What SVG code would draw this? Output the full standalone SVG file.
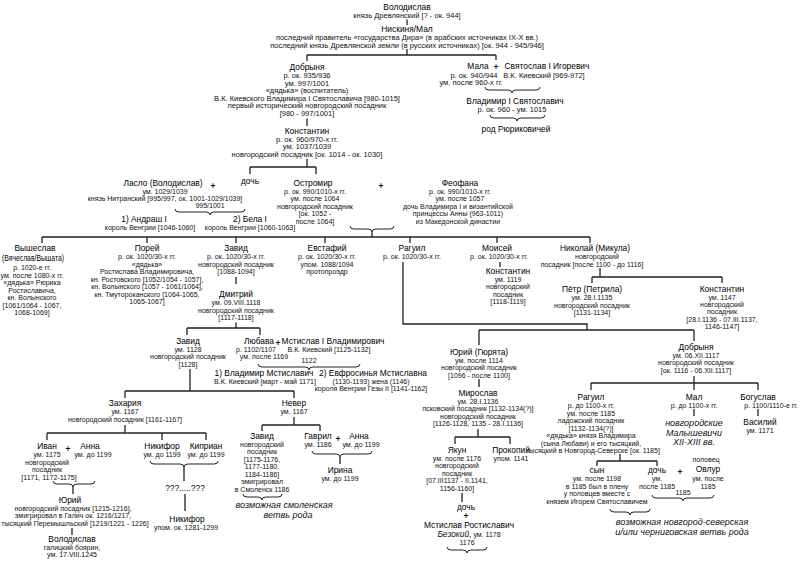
<svg xmlns="http://www.w3.org/2000/svg" width="800" height="562" viewBox="0 0 800 562">
<style>
text{font-family:"Liberation Sans",Arial,sans-serif;text-anchor:middle;fill:#111}
.n{font-size:8.4px;fill:#000}
.d{font-size:7px}
.t{font-size:7.5px}
.i{font-size:9px;font-style:italic}
.p{font-size:8.5px;font-weight:bold}
.c{fill:none;stroke:#222;stroke-width:1.3}
.b{fill:none;stroke:#222;stroke-width:1}
</style>
<rect width="800" height="562" fill="#fff"/>

<!-- connectors -->
<g id="connectors" class="c">
<path d="M407 19.5V25M407 49V55M307 55H496M307 55V61M496 55V60"/>
<path d="M307 118.5V126M307 159V167M250 167H316M250 167V174M316 167V174"/>
<path d="M372 232V237M42 237H590M42 237V243M147 237V243M236 237V243M325 237V243M410 237V243M497 237V243M590 237V243"/>
<path d="M236 277V284M236 322.5V328M187 328H260M187 328V335M260 328V335"/>
<path d="M403 262V324H587V330M479 330H694M479 330V345M694 330V341"/>
<path d="M500 262V267M600 268V277M592 277H722M592 277V283M722 277V283"/>
<path d="M190 369V391M125 391H294M125 391V398M294 391V398"/>
<path d="M125 425V433M47 433H206M47 433V440M162 433V440M206 433V440"/>
<path d="M73 487V494M72 528V535M184 467V481M185 494V511"/>
<path d="M294 417V425M262 425H320M262 425V431M320 425V431M340 457V464"/>
<path d="M479 379V387M478 429V437M455 437H510M455 437V444M510 437V444M462 493V502"/>
<path d="M694 376V383M591 383H758M591 383V390M694 383V390M758 383V390M694 409V416M758 409V416"/>
<path d="M620 454V461M597 461H657M597 461V466M657 461V466"/>
</g>

<!-- braces joining couples and groups -->
<g id="braces" class="b">
<path d="M485 87q0 3 4 3H508q4 0 4 3q0-3 4-3H536q4 0 4-3"/>
<path d="M490 115q0 3 4 3H513q4 0 4 3q0-3 4-3H541q4 0 4-3"/>
<path d="M175 209q0 3 4 3H206q4 0 4 3q0-3 4-3H241q4 0 4-3"/>
<path d="M350 226q0 3 4 3H368q4 0 4 3q0-3 4-3H390q4 0 4-3"/>
<path d="M258 364q0 3 4 3H305q4 0 4 3q0-3 4-3H356q4 0 4-3"/>
<path d="M53 481q0 3 4 3H69q4 0 4 3q0-3 4-3H91q4 0 4-3"/>
<path d="M150 461q0 3 4 3H180q4 0 4 3q0-3 4-3H214q4 0 4-3"/>
<path d="M243 494q0 3 4 3H258q4 0 4 3q0-3 4-3H278q4 0 4-3"/>
<path d="M312 451q0 3 4 3H336q4 0 4 3q0-3 4-3H368q4 0 4-3"/>
<path d="M447 547q0 3 4 3H463q4 0 4 3q0-3 4-3H483q4 0 4-3"/>
<path d="M652 495q0 3 4 3H679q4 0 4 3q0-3 4-3H710q4 0 4-3"/>
<path d="M610 509q0 3 4 3H626q4 0 4 3q0-3 4-3H646q4 0 4-3"/>
</g>

<g id="volodislav">
<text class="n" x="407" y="10">Володислав</text>
<text class="t" x="407" y="17.5">князь Древлянский [? - ок. 944]</text>
</g>
<g id="niskinya">
<text class="n" x="407" y="32">Нискиня/Мал</text>
<text class="t" x="407" y="40">последний правитель «государства Дира» (в арабских источниках IX-X вв.)</text>
<text class="t" x="407" y="47.5">последний князь Древлянской земли (в русских источниках) [ок. 944 - 945/946]</text>
</g>
<g id="dobrynya">
<text class="n" x="307" y="70">Добрыня</text>
<text class="t" x="307" y="78">р. ок. 935/936</text>
<text class="t" x="307" y="85.5">ум. 997/1001</text>
<text class="t" x="307" y="93">«дядька» (воспитатель)</text>
<text class="t" x="307" y="100.5">В.К. Киевского Владимира I Святославича [980-1015]</text>
<text class="t" x="307" y="108">первый исторический новгородский посадник</text>
<text class="t" x="307" y="115.5">[980 - 997/1001]</text>
</g>
<g id="mala">
<text class="n" x="478" y="69">Мала</text>
<text class="t" x="474" y="77.5">р. ок. 940/944</text>
<text class="t" x="471" y="85">ум. после 960-х гг.</text>
<text class="p" x="496" y="70">+</text>
</g>
<g id="svyatoslav">
<text class="n" x="547" y="69">Святослав I Игоревич</text>
<text class="t" x="544" y="77.5">В.К. Киевский [969-972]</text>
</g>
<g id="vladimir1">
<text class="n" x="515" y="104">Владимир I Святославич</text>
<text class="t" x="512" y="111.5">р. ок. 960 - ум. 1015</text>
</g>
<g id="rurikids">
<text class="n" x="516" y="132">род Рюриковичей</text>
</g>
<g id="konstantin1">
<text class="n" x="307" y="134">Константин</text>
<text class="t" x="307" y="141.5">р. ок. 960/970-х гг.</text>
<text class="t" x="307" y="149">ум. 1037/1039</text>
<text class="t" x="307" y="156.5">новгородский посадник [ок. 1014 - ок. 1030]</text>
</g>
<g id="laslo">
<text class="n" x="163" y="186">Ласло (Володислав)</text>
<text class="d" x="165" y="193.5">ум. 1029/1039</text>
<text class="d" x="165" y="201">князь Нитранский [995/997, ок. 1001-1029/1039]</text>
<text class="p" x="213" y="189">+</text>
<text class="d" x="210" y="207.5">995/1001</text>
</g>
<g id="daughter1">
<text class="n" x="250" y="184">дочь</text>
</g>
<g id="andras">
<text class="n" x="144" y="222">1) Андраш I</text>
<text class="d" x="150" y="229.5">король Венгрии [1046-1060]</text>
</g>
<g id="bela">
<text class="n" x="250" y="222">2) Бела I</text>
<text class="d" x="250" y="229.5">король Венгрии [1060-1063]</text>
</g>
<g id="ostromir">
<text class="n" x="313" y="186">Остромир</text>
<text class="d" x="315" y="193.5">р. ок. 990/1010-х гг.</text>
<text class="d" x="315" y="201">ум. после 1064</text>
<text class="d" x="315" y="208.5">новгородский посадник</text>
<text class="d" x="315" y="216">[ок. 1052 -</text>
<text class="d" x="315" y="223.5">после 1064]</text>
<text class="p" x="381" y="189">+</text>
</g>
<g id="feofana">
<text class="n" x="460" y="186">Феофана</text>
<text class="d" x="460" y="193.5">р. ок. 990/1010-х гг.</text>
<text class="d" x="460" y="201">ум. после 1057</text>
<text class="d" x="458" y="208.5">дочь Владимира I и византийской</text>
<text class="d" x="458" y="216">принцессы Анны (963-1011)</text>
<text class="d" x="458" y="223.5">из Македонской династии</text>
</g>
<g id="vysheslav">
<text class="n" x="35" y="251">Вышеслав</text>
<text class="n" x="33" y="261" textLength="62" lengthAdjust="spacingAndGlyphs">(Вячеслав/Вышата)</text>
<text class="d" x="32" y="270">р. 1020-е гг.</text>
<text class="d" x="32" y="277.5">ум. после 1080-х гг.</text>
<text class="d" x="32" y="285">«дядька» Рюрика</text>
<text class="d" x="32" y="292.5">Ростиславича,</text>
<text class="d" x="32" y="300">кн. Волынского</text>
<text class="d" x="32" y="307.5">[1061/1064 - 1067,</text>
<text class="d" x="32" y="315">1068-1069]</text>
</g>
<g id="porey">
<text class="n" x="147" y="251">Порей</text>
<text class="d" x="147" y="259">р. ок. 1020/30-х гг.</text>
<text class="d" x="147" y="266.5">«дядька»</text>
<text class="d" x="147" y="274">Ростислава Владимировича,</text>
<text class="d" x="147" y="281.5">кн. Ростовского [1052/1054 - 1057],</text>
<text class="d" x="147" y="289">кн. Волынского [1057 - 1061/1064],</text>
<text class="d" x="147" y="296.5">кн. Тмутороканского [1064-1065,</text>
<text class="d" x="147" y="304">1065-1067]</text>
</g>
<g id="zavid1">
<text class="n" x="236" y="251">Завид</text>
<text class="d" x="236" y="259">р. ок. 1020/30-х гг.</text>
<text class="d" x="236" y="266.5">новгородский посадник</text>
<text class="d" x="236" y="274">[1088-1094]</text>
</g>
<g id="dmitry">
<text class="n" x="236" y="297">Дмитрий</text>
<text class="d" x="236" y="305">ум. 09.VIII.1118</text>
<text class="d" x="236" y="312.5">новгородский посадник</text>
<text class="d" x="236" y="320">[1117-1118]</text>
</g>
<g id="evstafy">
<text class="n" x="327" y="251">Евстафий</text>
<text class="d" x="327" y="259">р. ок. 1020/30-х гг.</text>
<text class="d" x="327" y="266.5">упом. 1088/1094</text>
<text class="d" x="327" y="274">протопроэдр</text>
</g>
<g id="raguil1">
<text class="n" x="412" y="251">Рагуил</text>
<text class="d" x="412" y="259">р. ок. 1020/30-х гг.</text>
</g>
<g id="moisey">
<text class="n" x="497" y="251">Моисей</text>
<text class="d" x="499" y="259">р. ок. 1020/30-х гг.</text>
</g>
<g id="konstantin2">
<text class="n" x="508" y="274">Константин</text>
<text class="d" x="508" y="281.5">ум. 1119</text>
<text class="d" x="508" y="289">новгородский</text>
<text class="d" x="508" y="296.5">посадник</text>
<text class="d" x="508" y="304">[1118-1119]</text>
</g>
<g id="nikolay">
<text class="n" x="595" y="251">Николай (Микула)</text>
<text class="d" x="597" y="259">новгородский</text>
<text class="d" x="592" y="266.5">посадник [после 1100 - до 1116]</text>
</g>
<g id="petr">
<text class="n" x="592" y="292">Пётр (Петрила)</text>
<text class="d" x="592" y="300">ум. 28.I.1135</text>
<text class="d" x="592" y="307.5">новгородский посадник</text>
<text class="d" x="592" y="315">[1131-1134]</text>
</g>
<g id="konstantin3">
<text class="n" x="722" y="292">Константин</text>
<text class="d" x="722" y="299.5">ум. 1147</text>
<text class="d" x="722" y="307">новгородский</text>
<text class="d" x="722" y="314">посадник</text>
<text class="d" x="722" y="321.5">[28.I.1136 - 07.III.1137,</text>
<text class="d" x="722" y="329">1146-1147]</text>
</g>
<g id="zavid2">
<text class="n" x="188" y="344">Завид</text>
<text class="d" x="188" y="351.5">ум. 1128</text>
<text class="d" x="188" y="359">новгородский посадник</text>
<text class="d" x="188" y="366.5">[1128]</text>
</g>
<g id="lyubava">
<text class="n" x="259" y="344">Любава</text>
<text class="d" x="256" y="351.5">р. 1102/1107</text>
<text class="d" x="264" y="359">ум. после 1169</text>
<text class="p" x="278" y="346">+</text>
</g>
<g id="mstislav1">
<text class="n" x="333" y="344">Мстислав I Владимирович</text>
<text class="d" x="329" y="351.5">В.К. Киевский [1125-1132]</text>
<text class="d" x="309" y="362.5">1122</text>
</g>
<g id="vladimir-mst">
<text class="n" x="264" y="376">1) Владимир Мстиславич</text>
<text class="d" x="265" y="383.5">В.К. Киевский [март - май 1171]</text>
</g>
<g id="evfrosinya">
<text class="n" x="373" y="376">2) Евфросинья Мстиславна</text>
<text class="d" x="371" y="383.5">(1130-1193) жена (1146)</text>
<text class="d" x="371" y="391">короля Венгрии Гезы II [1141-1162]</text>
</g>
<g id="yury-gyuryata">
<text class="n" x="479" y="355">Юрий (Гюрята)</text>
<text class="d" x="479" y="362.5">ум. после 1114</text>
<text class="d" x="479" y="370">новгородский посадник</text>
<text class="d" x="479" y="377.5">[1096 - после 1100]</text>
</g>
<g id="miroslav">
<text class="n" x="478" y="396">Мирослав</text>
<text class="d" x="478" y="403.5">ум. 28.I.1136</text>
<text class="d" x="478" y="411">псковский посадник [1132-1134(?)]</text>
<text class="d" x="478" y="418.5">новгородский посадник</text>
<text class="d" x="478" y="426">[1126-1128, 1135 - 28.I.1136]</text>
</g>
<g id="dobrynya2">
<text class="n" x="696" y="350">Добрыня</text>
<text class="d" x="696" y="357.5">ум. 06.XII.1117</text>
<text class="d" x="696" y="365">новгородский посадник</text>
<text class="d" x="696" y="372.5">[ок. 1116 - 06.XII.1117]</text>
</g>
<g id="zakhariya">
<text class="n" x="125" y="406">Захария</text>
<text class="d" x="125" y="414">ум. 1167</text>
<text class="d" x="125" y="421.5">новгородский посадник [1161-1167]</text>
</g>
<g id="never">
<text class="n" x="294" y="406">Невер</text>
<text class="d" x="294" y="414">ум. 1167</text>
</g>
<g id="raguil2">
<text class="n" x="591" y="400">Рагуил</text>
<text class="d" x="591" y="408">р. до 1100-х гг.</text>
<text class="d" x="591" y="415.5">ум. после 1185</text>
<text class="d" x="591" y="423">ладожский посадник</text>
<text class="d" x="591" y="430.5">[1132-1134(?)]</text>
<text class="d" x="591" y="438">«дядька» князя Владимира</text>
<text class="d" x="591" y="445.5">(сына Любави) и его тысяцкий,</text>
<text class="d" x="593" y="453">тысяцкий в Новгород-Северске [ок. 1185]</text>
</g>
<g id="mal">
<text class="n" x="694" y="400">Мал</text>
<text class="d" x="694" y="408">р. до 1100-х гг.</text>
<text class="i" x="694" y="426">новгородские</text>
<text class="i" x="694" y="435.5">Малышевичи</text>
<text class="i" x="694" y="445">XII-XIII вв.</text>
</g>
<g id="boguslav">
<text class="n" x="758" y="400">Богуслав</text>
<text class="d" x="798" y="408" style="text-anchor:end">р. 1100/1110-е гг.</text>
<text class="n" x="760" y="425">Василий</text>
<text class="d" x="760" y="433">ум. 1171</text>
</g>
<g id="ivan">
<text class="n" x="47" y="449">Иван</text>
<text class="d" x="47" y="457">ум. 1175</text>
<text class="d" x="47" y="464.5">новгородский</text>
<text class="d" x="47" y="472">посадник</text>
<text class="d" x="49" y="479.5">[1171, 1172-1175]</text>
<text class="p" x="68" y="452">+</text>
</g>
<g id="anna1">
<text class="n" x="90" y="449">Анна</text>
<text class="d" x="93" y="457">ум. до 1199</text>
</g>
<g id="nikifor1">
<text class="n" x="162" y="449">Никифор</text>
<text class="d" x="162" y="457">ум. до 1199</text>
</g>
<g id="kiprian">
<text class="n" x="206" y="449">Киприан</text>
<text class="d" x="206" y="457">ум. до 1199</text>
</g>
<g id="unknown">
<text class="n" x="185" y="491">???.....???</text>
</g>
<g id="nikifor2">
<text class="n" x="187" y="522">Никифор</text>
<text class="d" x="186" y="530">упом. ок. 1281-1299</text>
</g>
<g id="yury">
<text class="n" x="70" y="503">Юрий</text>
<text class="d" x="73" y="510.5">новгородский посадник [1215-1216],</text>
<text class="d" x="73" y="518">эмигрировал в Галич ок. 1216/1217,</text>
<text class="d" x="75" y="525.5">тысяцкий Перемышльский [1219/1221 - 1226]</text>
</g>
<g id="volodislav2">
<text class="n" x="72" y="542">Володислав</text>
<text class="d" x="72" y="549.5">галицкий боярин,</text>
<text class="d" x="72" y="557">ум. 17.VIII.1245</text>
</g>
<g id="zavid3">
<text class="n" x="262" y="439">Завид</text>
<text class="d" x="262" y="446.5">новгородский</text>
<text class="d" x="262" y="454">посадник</text>
<text class="d" x="262" y="461.5">[1175-1176,</text>
<text class="d" x="262" y="469">1177-1180,</text>
<text class="d" x="262" y="476.5">1184-1186]</text>
<text class="d" x="262" y="484">эмигрировал</text>
<text class="d" x="262" y="491.5">в Смоленск 1186</text>
<text class="i" x="284" y="508">возможная смоленская</text>
<text class="i" x="288" y="518">ветвь рода</text>
</g>
<g id="gavril">
<text class="n" x="318" y="439">Гаврил</text>
<text class="d" x="318" y="447">ум. 1186</text>
<text class="p" x="338" y="442">+</text>
</g>
<g id="anna2">
<text class="n" x="359" y="439">Анна</text>
<text class="d" x="361" y="447">ум. до 1199</text>
</g>
<g id="irina">
<text class="n" x="340" y="473">Ирина</text>
<text class="d" x="340" y="481">ум. до 1199</text>
</g>
<g id="yakun">
<text class="n" x="457" y="453">Якун</text>
<text class="d" x="457" y="460.5">ум. после 1176</text>
<text class="d" x="457" y="468">новгородский</text>
<text class="d" x="457" y="475.5">посадник</text>
<text class="d" x="457" y="483">[07.III1137 - II.1141,</text>
<text class="d" x="457" y="490.5">1156-1160]</text>
</g>
<g id="prokopy">
<text class="n" x="511" y="453">Прокопий</text>
<text class="d" x="511" y="460.5">упом. 1141</text>
</g>
<g id="daughter-yakun">
<text class="n" x="466" y="510">дочь</text>
<text class="p" x="466" y="519">+</text>
</g>
<g id="mstislav-bezoky">
<text class="n" x="469" y="528">Мстислав Ростиславич</text>
<text x="469" y="536.5"><tspan class="i" style="font-size:8.4px">Безокий,</tspan><tspan class="d"> ум. 1178</tspan></text>
<text class="d" x="467" y="545">1176</text>
</g>
<g id="son-raguil">
<text class="n" x="597" y="473">сын</text>
<text class="d" x="597" y="481">ум. после 1198</text>
<text class="d" x="597" y="488.5">в 1185 был в плену</text>
<text class="d" x="597" y="496">у половцев вместе с</text>
<text class="d" x="597" y="503.5">князем Игорем Святославичем</text>
</g>
<g id="daughter-raguil">
<text class="n" x="657" y="473">дочь</text>
<text class="d" x="657" y="481">ум.</text>
<text class="d" x="657" y="488.5">после 1185</text>
<text class="p" x="680" y="475">+</text>
</g>
<g id="ovlur">
<text class="d" x="706" y="462">половец</text>
<text class="n" x="708" y="472">Овлур</text>
<text class="d" x="708" y="481">ум. после</text>
<text class="d" x="708" y="488.5">1185</text>
<text class="d" x="683" y="495">1185</text>
</g>
<g id="note-seversk">
<text class="i" x="682" y="525">возможная новгород-северская</text>
<text class="i" x="682" y="535">и/или черниговская ветвь рода</text>
</g>
</svg>
